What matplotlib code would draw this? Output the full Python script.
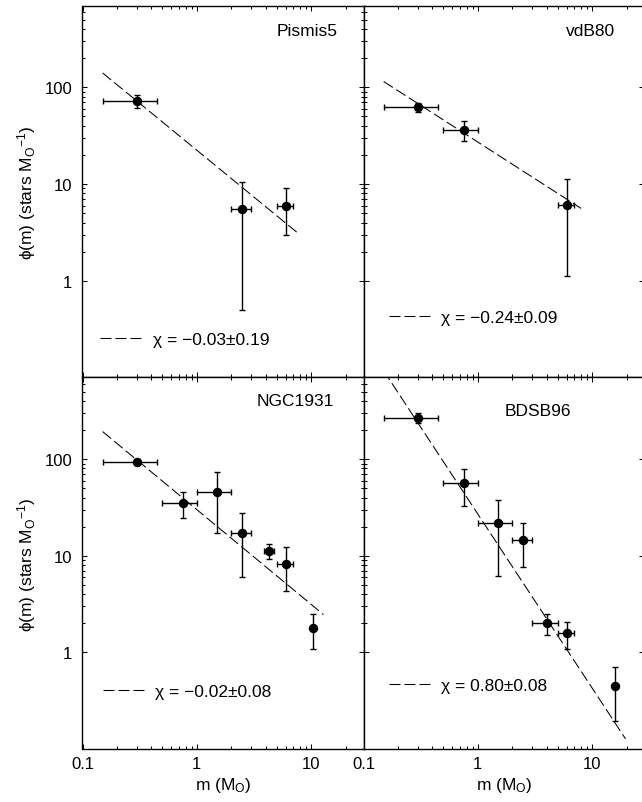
import numpy as np
import matplotlib
matplotlib.use("Agg")
import matplotlib.pyplot as plt
from matplotlib.ticker import FixedLocator, LogLocator, NullFormatter, FuncFormatter
from matplotlib.lines import Line2D

plt.rcParams['font.family'] = ['Liberation Sans', 'DejaVu Sans']
plt.rcParams['mathtext.fontset'] = 'custom'
plt.rcParams['mathtext.rm'] = 'Liberation Sans'
plt.rcParams['mathtext.it'] = 'Liberation Sans:italic'
plt.rcParams['lines.scale_dashes'] = False

# ---------------- data ----------------
cluster_names = ["Pismis5", "vdB80", "NGC1931", "BDSB96"]

pismis_m = [0.30, 2.5, 6.0]
pismis_mlo = [0.15, 2.0, 5.0]
pismis_mhi = [0.45, 3.0, 7.0]
pismis_phi = [72, 5.5, 6.0]
pismis_philo = [61, 0.50, 3.0]
pismis_phihi = [84, 10.5, 9.1]

vdb_m = [0.30, 0.75, 6.0]
vdb_mlo = [0.15, 0.50, 5.0]
vdb_mhi = [0.45, 1.0, 7.0]
vdb_phi = [62.6, 36.0, 6.1]
vdb_philo = [55.6, 28.0, 1.11]
vdb_phihi = [69.0, 45.0, 11.2]

ngc_m = [0.30, 0.75, 1.5, 2.5, 4.3, 6.0, 10.4]
ngc_mlo = [0.15, 0.50, 1.0, 2.0, 3.9, 5.0, np.nan]
ngc_mhi = [0.45, 1.0, 2.0, 3.0, 4.7, 7.0, np.nan]
ngc_phi = [94, 35, 45.5, 17, 11.2, 8.3, 1.8]
ngc_philo = [87, 24.5, 17, 6.0, 9.35, 4.35, 1.09]
ngc_phihi = [101, 45.5, 73, 27.5, 13.3, 12.2, 2.5]

bdsb_m = [0.30, 0.75, 1.5, 2.5, 4.0, 6.0, 15.8]
bdsb_mlo = [0.15, 0.50, 1.0, 2.0, 3.0, 5.0, np.nan]
bdsb_mhi = [0.45, 1.0, 2.0, 3.0, 5.0, 7.0, np.nan]
bdsb_phi = [268, 56.4, 21.9, 14.7, 2.0, 1.57, 0.45]
bdsb_philo = [234, 33, 6.2, 7.7, 1.5, 1.09, 0.197]
bdsb_phihi = [303, 79, 37.3, 21.7, 2.48, 2.07, 0.71]

# mass-function slopes (chi), errors, fit normalisation at 1 Msun, fitted mass range
fit_chi = [-0.03, -0.24, -0.02, 0.80]
fit_chi_err = [0.19, 0.09, 0.08, 0.08]
fit_norm = [22.4, 27.2, 30.0, 27.0]
fit_mmin = [0.15, 0.15, 0.15, 0.15]
fit_mmax = [7.9, 8.0, 12.8, 19.6]

x_ticks = [0.1, 1, 10]
y_ticks = [1, 10, 100]

# ---------------- layout ----------------
W, H = 642, 803
fig = plt.figure(figsize=(W / 100, H / 100), dpi=100)

def rect(x0, x1, yt, yb):
    return [x0 / W, 1 - yb / H, (x1 - x0) / W, (yb - yt) / H]

xl, xm, xr = 82.5, 363.5, 644.5
yt, ym, yb = 6.7, 378.4, 750.1
axes = [
    fig.add_axes(rect(xl, xm, yt, ym)),
    fig.add_axes(rect(xm, xr, yt, ym)),
    fig.add_axes(rect(xl, xm, ym, yb)),
    fig.add_axes(rect(xm, xr, ym, yb)),
]

datasets = [
    (pismis_m, pismis_mlo, pismis_mhi, pismis_phi, pismis_philo, pismis_phihi),
    (vdb_m, vdb_mlo, vdb_mhi, vdb_phi, vdb_philo, vdb_phihi),
    (ngc_m, ngc_mlo, ngc_mhi, ngc_phi, ngc_philo, ngc_phihi),
    (bdsb_m, bdsb_mlo, bdsb_mhi, bdsb_phi, bdsb_philo, bdsb_phihi),
]

title_pos = [(0.690, 0.921), (0.719, 0.921), (0.619, 0.926), (0.503, 0.899)]
legend_pos = [(0.064, 0.103), (0.090, 0.162), (0.072, 0.155), (0.090, 0.172)]

FS = 12.5
dash = (7.9, 2.9)

for i, ax in enumerate(axes):
    m, mlo, mhi, phi, philo, phihi = [np.array(a, dtype=float) for a in datasets[i]]
    ax.set_xscale('log')
    ax.set_yscale('log')
    ax.errorbar(m, phi, xerr=[m - mlo, mhi - m], yerr=[phi - philo, phihi - phi],
                fmt='o', color='k', ms=5.8, elinewidth=1.0, capsize=2.4,
                capthick=1.0, zorder=3)
    mf = np.array([fit_mmin[i], fit_mmax[i]])
    ax.plot(mf, fit_norm[i] * mf ** (-(1 + fit_chi[i])), color='k', lw=0.75,
            dashes=dash, zorder=2)
    ax.set_xlim(0.1, 28.7)
    ax.set_ylim(0.1, 700)

    ax.text(title_pos[i][0], title_pos[i][1], cluster_names[i], transform=ax.transAxes,
            ha='left', va='baseline', fontsize=FS)

    lab = f"χ = {fit_chi[i]:.2f}±{fit_chi_err[i]:.2f}".replace('-', '\u2212')
    h = Line2D([], [], color='k', lw=0.75, dashes=dash)
    ax.legend([h], [lab], loc='center left', bbox_to_anchor=legend_pos[i],
              frameon=False, borderpad=0, borderaxespad=0, handlelength=2.4,
              handletextpad=0.6, fontsize=FS)

    ax.xaxis.set_major_locator(FixedLocator(x_ticks))
    ax.xaxis.set_minor_locator(LogLocator(base=10, subs=np.arange(2, 10)))
    ax.xaxis.set_minor_formatter(NullFormatter())
    ax.yaxis.set_major_locator(FixedLocator(y_ticks))
    ax.yaxis.set_minor_locator(FixedLocator([k * t for t in y_ticks for k in range(2, 10)]))
    ax.yaxis.set_minor_formatter(NullFormatter())
    fmt = FuncFormatter(lambda v, p: f"{v:g}")
    ax.xaxis.set_major_formatter(fmt)
    ax.yaxis.set_major_formatter(fmt)

    ax.tick_params(which='both', direction='in', top=True, bottom=True,
                   left=True, right=True, width=0.75, labelsize=12)
    ax.tick_params(which='major', length=3.6)
    ax.tick_params(which='minor', length=2.2)
    ax.tick_params(axis='y', pad=7.5)
    ax.tick_params(axis='x', pad=5)
    for s in ax.spines.values():
        s.set_linewidth(1.0)

    if i in (1, 3):
        ax.tick_params(labelleft=False)
        ax.tick_params(which='minor', right=False)
    else:
        ax.set_ylabel("\u03d5(m) (stars $\\mathregular{M_O{}^{-1}}$)", fontsize=FS)
        ax.yaxis.set_label_coords(-0.157, 0.5)
    if i in (0, 1):
        ax.tick_params(labelbottom=False)
    else:
        ax.set_xlabel("m ($\\mathregular{M_O}$)", fontsize=FS)
        ax.xaxis.set_label_coords(0.5, -0.07)

fig.savefig("out.png", dpi=100)
